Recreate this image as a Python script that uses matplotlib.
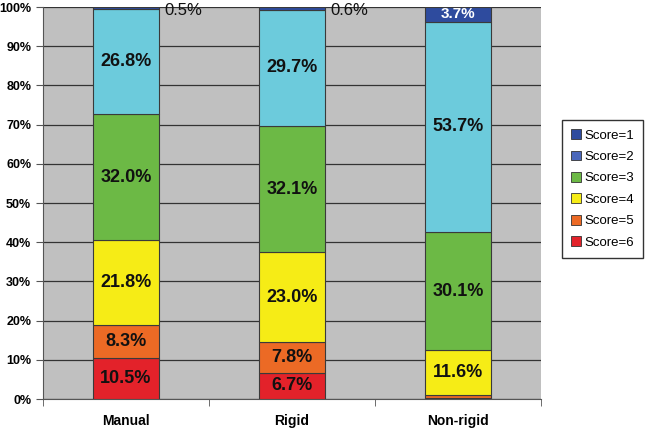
import matplotlib
matplotlib.use("Agg")
import matplotlib.pyplot as plt
from matplotlib.patches import Patch
import numpy as np

plt.rcParams['font.family'] = ['Liberation Sans', 'DejaVu Sans']

categories = ["Manual", "Rigid", "Non-rigid"]
scores = ["Score=1", "Score=2", "Score=3", "Score=4", "Score=5", "Score=6"]
# values per score (percent), per category
score6 = [10.5, 6.7, 0.3]
score5 = [8.3, 7.8, 0.6]
score4 = [21.8, 23.0, 11.6]
score3 = [32.0, 32.1, 30.1]
score2 = [26.8, 29.7, 53.7]
score1 = [0.5, 0.6, 3.7]

stack = [score6, score5, score4, score3, score2, score1]
bar_colors = ["#e3222a", "#ec6a25", "#f6ec16", "#6cb945", "#6ccbdc", "#2e4b9e"]
legend_colors = {"Score=1": "#2e4b9e", "Score=2": "#4a67bb", "Score=3": "#6cb945",
                 "Score=4": "#f6ec16", "Score=5": "#ec6a25", "Score=6": "#e3222a"}

fig = plt.figure(figsize=(6.47, 4.30), dpi=100)
ax = fig.add_axes([43/647, 1-399/430, (541-43)/647, (399-7)/430])
ax.set_facecolor("#c0c0c0")

x = np.arange(len(categories))
bottom = np.zeros(len(categories))
for i, (vals, col) in enumerate(zip(stack, bar_colors)):
    vals = np.array(vals)
    ax.bar(x, vals, 0.4, bottom=bottom, color=col, edgecolor="#3a3a3a", linewidth=0.8, zorder=3)
    for j, v in enumerate(vals):
        if v >= 3 and not (i == 5):
            ax.text(x[j], bottom[j] + v/2, f"{v:.1f}%", ha="center", va="center",
                    fontsize=13, fontweight="bold", color="#111111", zorder=4)
        elif i == 5:
            if v >= 3:
                ax.text(x[j], bottom[j] + v/2, f"{v:.1f}%", ha="center", va="center",
                        fontsize=11, fontweight="bold", color="white", zorder=4)
            else:
                ax.text(x[j] + 0.23, 99.2, f"{v:.1f}%", ha="left", va="center",
                        fontsize=12, color="#111111", zorder=4)
    bottom += vals

ax.set_xlim(-0.5, 2.5)
ax.set_ylim(0, 100)
ax.set_yticks(np.arange(0, 101, 10))
ax.set_yticklabels([f"{t}%" for t in range(0, 101, 10)], fontsize=9, fontweight="bold")
ax.yaxis.grid(True, color="#333333", linewidth=0.9, zorder=1)
ax.set_axisbelow(True)
ax.set_xticks(x)
ax.set_xticklabels(categories, fontsize=10, fontweight="bold")
ax.tick_params(axis="x", length=0, pad=11)
ax.set_xticks([-0.5, 0.5, 1.5, 2.5], minor=True)
ax.tick_params(axis="x", which="minor", length=5, color="#555555")
ax.tick_params(axis="y", length=5, color="#555555")
for s in ["top", "right"]:
    ax.spines[s].set_visible(False)
for s in ["left", "bottom"]:
    ax.spines[s].set_color("#555555")

handles = [Patch(facecolor=legend_colors[s], edgecolor="#333333", linewidth=0.6, label=s) for s in scores]
leg = fig.legend(handles=handles, loc="upper left", bbox_to_anchor=(562/647, 1-120/430),
                 borderaxespad=0, frameon=True, fontsize=9.5, handlelength=0.75, handleheight=0.75,
                 handletextpad=0.25, labelspacing=0.68, borderpad=0.7, fancybox=False)
leg.get_frame().set_edgecolor("black")
leg.get_frame().set_linewidth(1.0)

fig.savefig("out.png", dpi=100)
